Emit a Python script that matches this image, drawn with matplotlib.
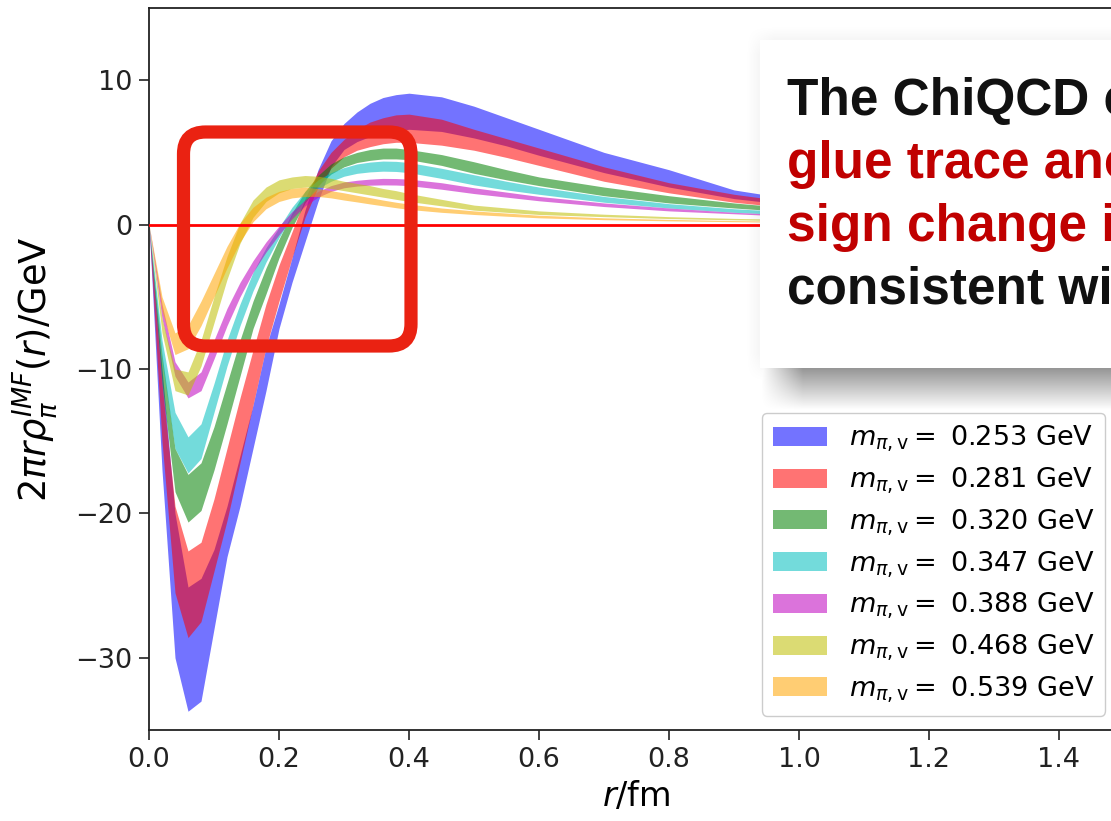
import numpy as np
import matplotlib
matplotlib.use("Agg")
import matplotlib.pyplot as plt
from matplotlib.patches import FancyBboxPatch, Rectangle
from matplotlib.transforms import IdentityTransform

# ---------------- data ----------------
r = [0.00, 0.02, 0.04, 0.06, 0.08, 0.10, 0.12, 0.14, 0.16, 0.18, 0.20,
     0.22, 0.24, 0.26, 0.28, 0.30, 0.32, 0.34, 0.36, 0.38, 0.40,
     0.45, 0.50, 0.55, 0.60, 0.70, 0.80, 0.90, 1.00, 1.20, 1.50]

blue_lo = [0, -17, -30, -33.7, -33.0, -28.0, -23.0, -19.5, -15.5, -11.5, -7.2,
           -4.0, -1.2, 1.6, 4.0, 5.2, 5.75, 6.1, 6.35, 6.5, 6.6,
           6.45, 6.0, 5.45, 4.8, 3.6, 2.6, 1.8, 1.3, 0.6, 0.2]
blue_hi = [0, -10, -20, -25.1, -24.5, -22.5, -19.5, -16.0, -12.5, -8.5, -5.5,
           -2.3, 1.0, 3.8, 5.8, 7.0, 7.8, 8.4, 8.8, 9.0, 9.1,
           8.85, 8.2, 7.4, 6.6, 5.0, 3.8, 2.4, 1.7, 0.9, 0.3]

red_lo = [0, -15, -25.5, -28.6, -27.5, -24.0, -20.5, -16.5, -12.5, -8.5, -5.3,
          -2.3, 0.5, 2.6, 3.9, 4.7, 5.15, 5.4, 5.6, 5.7, 5.7,
          5.5, 5.15, 4.65, 4.1, 3.0, 2.2, 1.55, 1.1, 0.5, 0.15]
red_hi = [0, -11, -19.5, -22.6, -22.0, -19.0, -15.5, -12.0, -8.7, -5.5, -2.8,
          -0.5, 1.8, 3.7, 5.0, 5.9, 6.6, 7.1, 7.4, 7.6, 7.65,
          7.3, 6.6, 5.95, 5.3, 4.0, 2.9, 2.1, 1.5, 0.7, 0.25]

green_lo = [0, -11, -18.5, -20.6, -19.8, -17.0, -13.8, -10.5, -7.2, -4.8, -2.3,
            -0.2, 1.5, 2.7, 3.5, 4.0, 4.3, 4.45, 4.55, 4.55, 4.5,
            4.1, 3.55, 3.1, 2.7, 2.0, 1.5, 1.15, 0.85, 0.4, 0.1]
green_hi = [0, -9, -15.5, -17.3, -16.5, -14.0, -11.0, -8.0, -5.3, -3.0, -1.0,
            0.8, 2.3, 3.4, 4.2, 4.7, 5.0, 5.2, 5.3, 5.3, 5.2,
            4.85, 4.35, 3.8, 3.3, 2.6, 2.0, 1.5, 1.1, 0.55, 0.15]

cyan_lo = [0, -9.5, -15.5, -17.2, -16.2, -13.0, -9.8, -7.0, -4.6, -2.6, -0.9,
           0.6, 1.7, 2.5, 3.0, 3.35, 3.55, 3.65, 3.7, 3.68, 3.6,
           3.2, 2.75, 2.4, 2.1, 1.55, 1.15, 0.85, 0.65, 0.3, 0.08]
cyan_hi = [0, -8, -13.0, -14.7, -13.8, -11.0, -8.0, -5.5, -3.3, -1.6, -0.2,
           1.2, 2.3, 3.1, 3.6, 3.95, 4.2, 4.33, 4.4, 4.38, 4.3,
           3.9, 3.45, 3.0, 2.6, 1.95, 1.45, 1.1, 0.85, 0.4, 0.12]

magenta_lo = [0, -6.5, -10.5, -12.0, -11.5, -9.3, -7.0, -5.0, -3.3, -1.9, -0.7,
              0.4, 1.3, 1.9, 2.3, 2.55, 2.67, 2.73, 2.75, 2.74, 2.7,
              2.45, 2.15, 1.9, 1.65, 1.25, 0.95, 0.75, 0.55, 0.25, 0.07]
magenta_hi = [0, -5.5, -9.5, -10.9, -10.2, -8.0, -5.8, -4.0, -2.5, -1.2, -0.1,
              0.9, 1.7, 2.3, 2.7, 2.95, 3.07, 3.15, 3.2, 3.19, 3.15,
              2.9, 2.55, 2.25, 1.95, 1.5, 1.15, 0.85, 0.65, 0.3, 0.09]

yellow_lo = [0, -7.5, -11.5, -11.8, -9.8, -6.8, -3.8, -1.3, 0.5, 1.6, 2.2,
             2.5, 2.6, 2.6, 2.5, 2.35, 2.2, 2.05, 1.9, 1.75, 1.6,
             1.3, 1.0, 0.85, 0.7, 0.55, 0.42, 0.33, 0.27, 0.14, 0.04]
yellow_hi = [0, -6.5, -10.0, -10.2, -8.0, -5.0, -2.2, 0.1, 1.7, 2.6, 3.1,
             3.3, 3.4, 3.35, 3.2, 3.0, 2.85, 2.7, 2.5, 2.35, 2.15,
             1.75, 1.35, 1.15, 0.95, 0.72, 0.55, 0.43, 0.35, 0.2, 0.06]

orange_lo = [0, -6, -9.0, -8.6, -7.0, -5.0, -3.0, -1.2, 0.2, 1.1, 1.6,
             1.85, 1.95, 1.95, 1.85, 1.7, 1.57, 1.43, 1.3, 1.17, 1.05,
             0.85, 0.7, 0.58, 0.47, 0.34, 0.26, 0.2, 0.16, 0.08, 0.02]
orange_hi = [0, -5, -7.5, -7.0, -5.3, -3.4, -1.5, 0.1, 1.2, 1.9, 2.3,
             2.5, 2.6, 2.5, 2.35, 2.2, 2.03, 1.87, 1.7, 1.55, 1.42,
             1.15, 0.95, 0.8, 0.65, 0.47, 0.36, 0.28, 0.22, 0.12, 0.04]

masses = ["0.253", "0.281", "0.320", "0.347", "0.388", "0.468", "0.539"]
band_colors = ["b", "r", "g", "c", "m", "y", "orange"]
lows = [blue_lo, red_lo, green_lo, cyan_lo, magenta_lo, yellow_lo, orange_lo]
highs = [blue_hi, red_hi, green_hi, cyan_hi, magenta_hi, yellow_hi, orange_hi]

x_ticks = [0.0, 0.2, 0.4, 0.6, 0.8, 1.0, 1.2, 1.4]
y_ticks = [-30, -20, -10, 0, 10]

overlay_lines = ["The ChiQCD calculation of the", "glue trace anomaly shows",
                 "sign change in the pion", "consistent with"]
overlay_colors = ["#111111", "#c00000", "#c00000", "#111111"]

# ---------------- figure ----------------
W, H = 1111, 821
fig = plt.figure(figsize=(W / 100, H / 100), dpi=100)
fig.patch.set_facecolor("white")

ax = fig.add_axes([149 / W, 1 - 730 / H, (1124 - 149) / W, (730 - 8) / H])

for lo, hi, c, m in zip(lows, highs, band_colors, masses):
    ax.fill_between(r, lo, hi, color=c, alpha=0.55, linewidth=0,
                    label=r"$m_{\pi,\mathrm{v}} = $ " + m + " GeV")

ax.axhline(0, color="red", lw=2, zorder=3)

ax.set_xlim(0, 1.5)
ax.set_ylim(-35, 15)
ax.set_xticks(x_ticks)
ax.set_yticks(y_ticks)
ax.tick_params(labelsize=19.5, length=7, width=1.2, pad=5, colors="#222222")
for s in ax.spines.values():
    s.set_linewidth(1.3)
    s.set_color("#222222")
ax.set_xlabel(r"$r$/fm", fontsize=24, labelpad=5)
ax.set_ylabel(r"$2\pi r\rho_{\pi}^{IMF}(r)$/GeV", fontsize=26.5, labelpad=11)

leg = ax.legend(loc="upper left", bbox_to_anchor=(762 / W, 1 - 413 / H),
                bbox_transform=fig.transFigure, fontsize=19.5, borderaxespad=0,
                handlelength=2.0, handletextpad=0.8, labelspacing=0.42,
                borderpad=0.4, framealpha=1, edgecolor="#cccccc", fancybox=True)
leg.set_zorder(10)

# ---------------- red rounded highlight ----------------
rx0, rx1 = 183.5, 411
ry0, ry1 = H - 346, H - 132
fig.add_artist(FancyBboxPatch((rx0, ry0), rx1 - rx0, ry1 - ry0,
                              boxstyle="round,pad=0,rounding_size=22",
                              transform=IdentityTransform(), fill=False,
                              edgecolor="#ea2212", linewidth=9.5, zorder=4))

# ---------------- overlay text box with shadow ----------------
bx0, bx1, by0, by1 = 760, 1400, 40, 368  # pixel coords from top
sx0, sy0 = 725, 20
sw, sh = W - sx0, 430 - sy0
xx = np.arange(sx0, sx0 + sw)[None, :] + 0.5
yy = np.arange(sy0, sy0 + sh)[:, None] + 0.5


def ramp_box(x0, x1, y0, y1, w):
    fx = np.clip((xx - (x0 - w)) / (2 * w), 0, 1) * np.clip(((x1 + w) - xx) / (2 * w), 0, 1)
    fy = np.clip((yy - (y0 - w)) / (2 * w), 0, 1) * np.clip(((y1 + w) - yy) / (2 * w), 0, 1)
    return fx * fy


alpha = 0.42 * ramp_box(bx0 + 22, bx1 + 22, by0 + 21, by1 + 21, 21)
alpha = np.maximum(alpha, 0.08 * ramp_box(bx0, bx1, by0, by1, 14))
img = np.zeros((sh, sw, 4))
img[..., 3] = alpha
fig.figimage(img, xo=sx0, yo=H - (sy0 + sh), origin="upper", zorder=5)

fig.add_artist(Rectangle((bx0, H - by1), bx1 - bx0, by1 - by0,
                         transform=IdentityTransform(), facecolor="white",
                         edgecolor="none", zorder=6))

baselines = [115, 178, 241, 304]
for txt, col, b in zip(overlay_lines, overlay_colors, baselines):
    fig.text(787 / W, 1 - b / H, txt, color=col, fontsize=37,
             fontweight="bold", family="Liberation Sans", va="baseline",
             ha="left", zorder=7)

fig.savefig("out.png", dpi=100)
